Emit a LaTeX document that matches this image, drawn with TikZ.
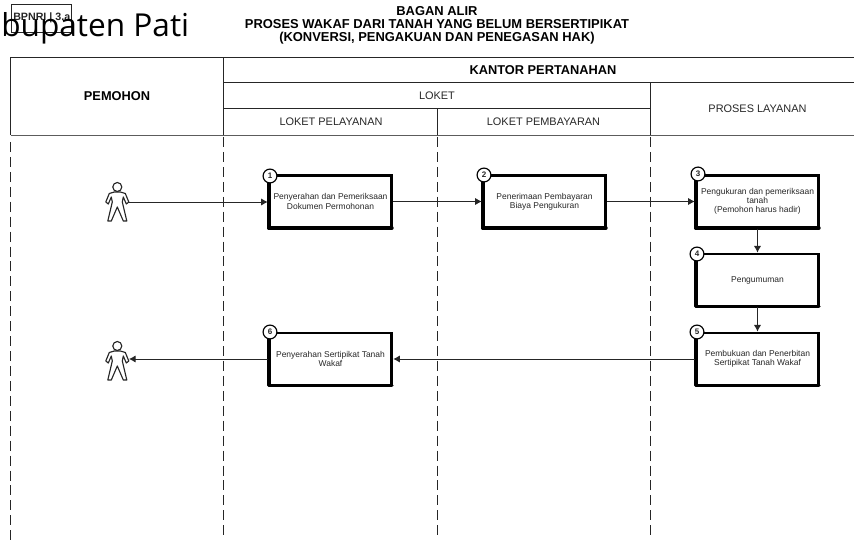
\documentclass[tikz,border=0pt]{standalone}
\usepackage{fontspec}
\setmainfont{Liberation Sans}
\newfontfamily\bigfont{Open Sans}
\usetikzlibrary{arrows.meta}
\definecolor{ink}{HTML}{262626}
\tikzset{
  x=0.75pt,y=-0.75pt,
  every node/.style={inner sep=0pt,text=ink},
  frame/.style={draw=ink,line width=0.75pt},
  head/.style={font=\fontsize{8.2}{9}\selectfont,align=center},
  headb/.style={font=\fontsize{9.6}{10}\selectfont\bfseries,align=center,text=black},
  lane/.style={draw=ink,line width=0.7pt,dash pattern=on 7.5pt off 3.7pt},
  stepbox/.style={draw=black,line width=2.1pt,minimum width=92pt,minimum height=39pt,
     align=center,font=\fontsize{6.35}{6.8}\selectfont},
  num/.style={circle,draw=black,fill=white,line width=0.9pt,minimum size=10.4pt,
     font=\fontsize{6}{6}\selectfont\bfseries},
  flow/.style={draw=ink,line width=0.7pt,-{Latex[length=5pt,width=5.5pt]}},
  figure/.pic={
    \draw[ink,line width=0.85pt] (0,0) circle (4.5);
    \draw[ink,line width=0.85pt,line join=round] (-3,5)--(-8,6.5)--(-11.5,15)--(-9,17)--(-6,10)--(-5,15)--(-9.5,34)--(-6,34)--(0,20)--(6,34)--(9.5,34)--(5,15)--(6,10)--(9,17)--(11.5,15)--(8,6.5)--(3,5)--cycle;
  }
}
\begin{document}
\begin{tikzpicture}
\useasboundingbox (0,0) rectangle (854,541);
\clip (0,0) rectangle (854,541);
% label box and titles
\node[frame,minimum width=45.5pt,minimum height=21pt,anchor=north west,line width=0.6pt] (tag) at (10.5,4.5) {};
\node[anchor=west,font=\fontsize{8}{8}\selectfont\bfseries] (tagtext) at (13,18) {BPNRI | 3.a};
\node[anchor=base west,font=\bigfont\fontsize{23.7}{28}\selectfont,text=black] (place) at (1,37) {bupaten Pati};
\node[font=\fontsize{9.7}{9.75}\selectfont\bfseries,align=center,text=black,anchor=center] (title) at (437,25.5) {BAGAN ALIR\\PROSES WAKAF DARI TANAH YANG BELUM BERSERTIPIKAT\\(KONVERSI, PENGAKUAN DAN PENEGASAN HAK)};
% header grid
\draw[frame] (854,57.5)--(10.5,57.5)--(10.5,135.5);
\draw[frame] (223.5,57.5)--(223.5,135.5);
\draw[frame] (223.5,83)--(854,83);
\draw[frame] (223.5,109)--(650.5,109);
\draw[frame] (437.5,109)--(437.5,135.5);
\draw[frame] (650.5,83)--(650.5,135.5);
\draw[draw=ink!75,line width=1.1pt] (10.5,135.5)--(854,135.5);
\node[headb] (hp) at (117,96) {PEMOHON};
\node[headb] (hk) at (543,70) {KANTOR PERTANAHAN};
\node[head] (hl) at (437,96) {LOKET};
\node[head] (hlp) at (331,122) {LOKET PELAYANAN};
\node[head] (hlb) at (543.5,122) {LOKET PEMBAYARAN};
\node[head] (hpl) at (757.5,109) {PROSES LAYANAN};
% swimlanes
\draw[lane] (10.5,142)--(10.5,541);
\draw[lane] (223.5,137)--(223.5,538);
\draw[lane] (437.5,137)--(437.5,538);
\draw[lane] (650.5,137)--(650.5,538);
% steps
\node[stepbox] (b1) at (330.5,201.5) {Penyerahan dan Pemeriksaan\\Dokumen Permohonan};
\node[stepbox] (b2) at (544.5,201.5) {Penerimaan Pembayaran\\Biaya Pengukuran};
\node[stepbox] (b3) at (757.5,201.5) {Pengukuran dan pemeriksaan\\tanah\\(Pemohon harus hadir)};
\node[stepbox] (b4) at (757.5,280) {Pengumuman};
\node[stepbox] (b5) at (757.5,359) {Pembukuan dan Penerbitan\\Sertipikat Tanah Wakaf};
\node[stepbox] (b6) at (330.5,359) {Penyerahan Sertipikat Tanah\\Wakaf};
\foreach \b in {b1,b2,b3,b4,b5,b6}
  \draw[black,line width=2.7pt,line cap=round,line join=round] ([xshift=0.6pt,yshift=-1pt]\b.north west)--([xshift=0.6pt,yshift=0.6pt]\b.south west)--([xshift=-1pt,yshift=0.6pt]\b.south east);
\node[num] (n1) at (270,176) {1};
\node[num] (n2) at (484,175) {2};
\node[num] (n3) at (698,174) {3};
\node[num] (n4) at (697,254) {4};
\node[num] (n5) at (697,332) {5};
\node[num] (n6) at (270,332) {6};
% people
\pic at (117.3,187) {figure};
\pic at (117.3,346) {figure};
\coordinate (from) at (128,202);
\coordinate (to) at (129,359);
% connectors
\draw[flow] (from)--(from-|b1.west);
\draw[flow] (b1.east)--(b2.west);
\draw[flow] (b2.east)--(b3.west);
\draw[flow] (b3.south)--(b4.north);
\draw[flow] (b4.south)--(b5.north);
\draw[flow] (b5.west)--(b6.east);
\draw[flow] (b6.west)--(to);
\end{tikzpicture}
\end{document}
